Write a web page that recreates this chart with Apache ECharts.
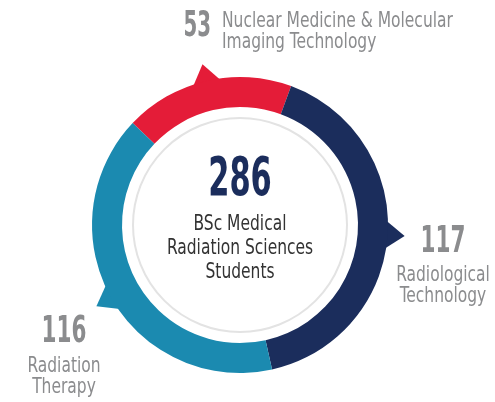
<!DOCTYPE html>
<html>
<head>
<meta charset="utf-8">
<script src="https://cdn.jsdelivr.net/npm/echarts@6/dist/echarts.min.js"></script>
<style>
  html, body { margin: 0; padding: 0; background: #fff; }
  #chart { width: 495px; height: 402px; }
</style>
</head>
<body>
<div id="chart"></div>
<script>
// program data
const programs = ['Nuclear Medicine & Molecular\nImaging Technology', 'Radiological\nTechnology', 'Radiation\nTherapy'];
const students = [53, 117, 116];
const centerCaption = 'BSc Medical\nRadiation Sciences\nStudents';

const colors = ['#e41c38', '#1b2d5c', '#1b8ab0'];
const FONT = '"DejaVu Sans Condensed", "DejaVu Sans", sans-serif';
const cx = 240, cy = 225, rIn = 118, rOut = 148, startAngle = 136.5;
const total = students.reduce((a, b) => a + b, 0);

const chart = echarts.init(document.getElementById('chart'));

// little pointer wedge at the middle of each slice
function renderPointer(params, api) {
  const i = params.dataIndex;
  let before = 0;
  for (let k = 0; k < i; k++) before += students[k];
  const mid = startAngle - (before + students[i] / 2) / total * 360;
  const pt = (deg, r) => {
    const a = deg * Math.PI / 180;
    return [cx + r * Math.cos(a), cy - r * Math.sin(a)];
  };
  return {
    type: 'polygon',
    shape: { points: [pt(mid + 6, rOut - 3), pt(mid, rOut + 17), pt(mid - 6, rOut - 3)] },
    style: { fill: colors[i] }
  };
}

function numberText(val, x, y, align, size) {
  return {
    type: 'text', x: x, y: y, scaleX: 0.63, silent: true,
    style: {
      text: String(val), align: align, verticalAlign: 'middle',
      font: 'bold ' + size + 'px ' + FONT, fill: '#8b8c8e'
    }
  };
}
function labelText(txt, x, y, align) {
  return {
    type: 'text', x: x, y: y, scaleX: 0.82, silent: true,
    style: {
      text: txt, align: align, verticalAlign: 'middle', lineHeight: 21,
      font: '21px ' + FONT, fill: '#8b8c8e'
    }
  };
}

chart.setOption({
  backgroundColor: '#fff',
  animation: false,
  series: [
    {
      type: 'custom',
      coordinateSystem: 'none',
      silent: true,
      z: 1,
      data: students,
      renderItem: renderPointer
    },
    {
      type: 'pie',
      center: [cx, cy],
      radius: [rIn, rOut],
      startAngle: startAngle,
      clockwise: true,
      silent: true,
      z: 2,
      label: { show: false },
      labelLine: { show: false },
      itemStyle: { borderWidth: 0 },
      data: students.map((v, i) => ({ value: v, name: programs[i], itemStyle: { color: colors[i] } }))
    }
  ],
  graphic: [
    {
      type: 'circle', silent: true,
      shape: { cx: cx, cy: cy, r: 107 },
      style: { fill: 'none', stroke: '#e3e3e3', lineWidth: 2 }
    },
    {
      type: 'text', x: cx, y: 181, scaleX: 0.64, silent: true,
      style: {
        text: String(total), align: 'center', verticalAlign: 'middle',
        font: 'bold 53px ' + FONT, fill: '#1b2d5c'
      }
    },
    {
      type: 'text', x: cx, y: 249, scaleX: 0.82, silent: true,
      style: {
        text: centerCaption, align: 'center', verticalAlign: 'middle', lineHeight: 24,
        font: '21px ' + FONT, fill: '#333'
      }
    },
    numberText(students[0], 211, 27, 'right', 35),
    labelText(programs[0], 222, 32, 'left'),
    numberText(students[1], 443, 242, 'center', 38),
    labelText(programs[1], 443, 286.5, 'center'),
    numberText(students[2], 64, 332, 'center', 38),
    labelText(programs[2], 64, 377, 'center')
  ]
});
</script>
</body>
</html>
